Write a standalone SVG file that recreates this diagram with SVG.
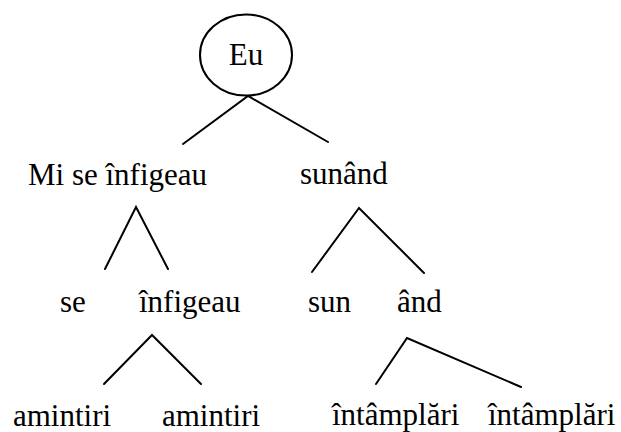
<svg xmlns="http://www.w3.org/2000/svg" width="621" height="432" viewBox="0 0 621 432">
  <style>
    .lbl { font-family: 'Liberation Serif', 'Times New Roman', 'DejaVu Serif', serif; font-size: 31px; fill: #000; }
    .edge { stroke: #000; stroke-width: 2; fill: none; stroke-linecap: round; }
    .circle { stroke: #000; stroke-width: 2; fill: #fff; }
  </style>
  <rect width="621" height="432" fill="#fff"/>

  <g id="connectors">
    <polyline class="edge" points="183,144 248,96 328,142"/>
    <polyline class="edge" points="105,269 136,207 168,269"/>
    <polyline class="edge" points="312,272 359,208 424,273"/>
    <polyline class="edge" points="104,384 152,335 201,384"/>
    <polyline class="edge" points="376,384 407,338 521,387"/>
  </g>

  <g id="node-eu">
    <ellipse class="circle" cx="246" cy="55" rx="46" ry="40.5"/>
    <text class="lbl" x="246" y="65" text-anchor="middle">Eu</text>
  </g>
  <g id="node-mi-se-infigeau">
    <text class="lbl" x="28" y="185">Mi se înfigeau</text>
  </g>
  <g id="node-sunand">
    <text class="lbl" x="300" y="184">sunând</text>
  </g>
  <g id="node-se">
    <text class="lbl" x="60" y="312">se</text>
  </g>
  <g id="node-infigeau">
    <text class="lbl" x="139" y="312">înfigeau</text>
  </g>
  <g id="node-sun">
    <text class="lbl" x="308" y="312">sun</text>
  </g>
  <g id="node-and">
    <text class="lbl" x="397" y="312">ând</text>
  </g>
  <g id="node-amintiri-1">
    <text class="lbl" x="13" y="426">amintiri</text>
  </g>
  <g id="node-amintiri-2">
    <text class="lbl" x="162" y="426">amintiri</text>
  </g>
  <g id="node-intamplari-1">
    <text class="lbl" x="332" y="425">întâmplări</text>
  </g>
  <g id="node-intamplari-2">
    <text class="lbl" x="488" y="425">întâmplări</text>
  </g>
</svg>
